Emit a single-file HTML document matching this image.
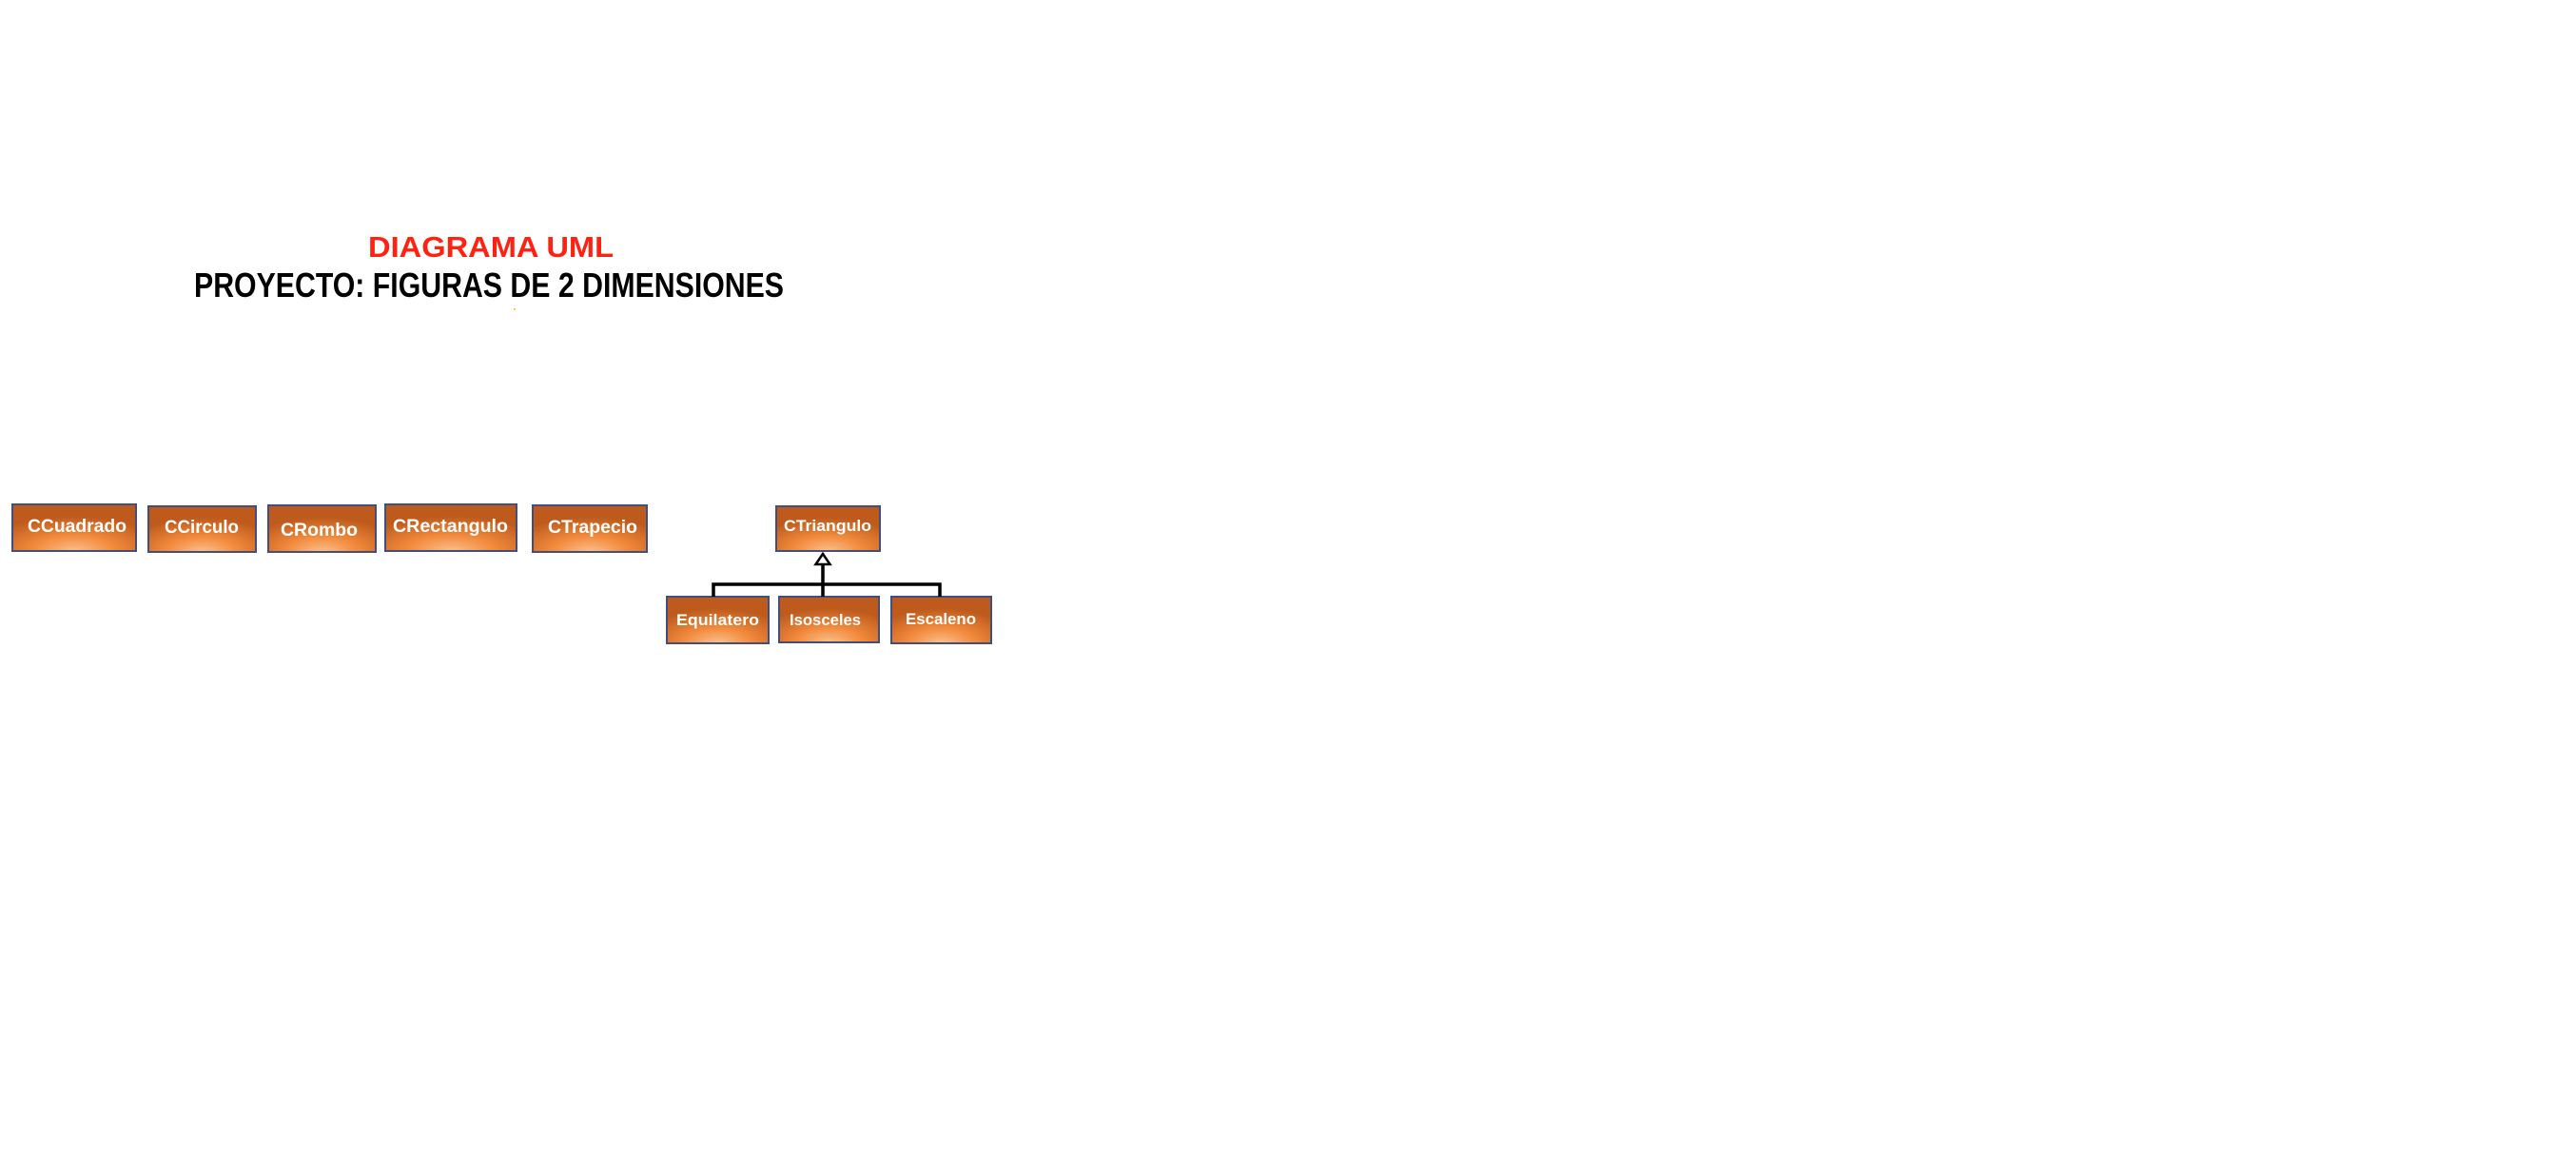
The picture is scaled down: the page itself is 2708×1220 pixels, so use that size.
<!DOCTYPE html>
<html><head><meta charset="utf-8"><style>html,body{margin:0;padding:0;background:#fff;width:2708px;height:1220px;overflow:hidden}</style></head>
<body>
<svg width="2708" height="1220" xmlns="http://www.w3.org/2000/svg" style="display:block">
<defs>
<radialGradient id="g" cx="0.5" cy="1" r="0.75" fx="0.5" fy="1">
<stop offset="0" stop-color="#fbbf8c"/>
<stop offset="0.45" stop-color="#f28a3c"/>
<stop offset="1" stop-color="#bd5a1c"/>
</radialGradient>
</defs>
<g font-family="Liberation Sans, sans-serif" font-weight="bold">
<text x="387" y="270" font-size="31" fill="#ff2212" textLength="258" lengthAdjust="spacingAndGlyphs">DIAGRAMA UML</text>
<text x="204" y="312" font-size="36" fill="#000" textLength="620" lengthAdjust="spacingAndGlyphs">PROYECTO: FIGURAS DE 2 DIMENSIONES</text>
<circle cx="541" cy="325" r="1" fill="#f0c000"/>
<g stroke="#3f4f7f" stroke-width="2" fill="url(#g)">
<rect x="13" y="530" width="130" height="49"/>
<rect x="156" y="532" width="113" height="48"/>
<rect x="282" y="531" width="113" height="49"/>
<rect x="405" y="530" width="138" height="49"/>
<rect x="560" y="531" width="120" height="49"/>
<rect x="816" y="532" width="109" height="47"/>
<rect x="701" y="627" width="107" height="49"/>
<rect x="819" y="627" width="105" height="48"/>
<rect x="937" y="627" width="105" height="49"/>
</g>
<g fill="#fff" font-size="19">
<text x="29" y="559" textLength="104" lengthAdjust="spacingAndGlyphs">CCuadrado</text>
<text x="173" y="560" textLength="78" lengthAdjust="spacingAndGlyphs">CCirculo</text>
<text x="295" y="563" textLength="81" lengthAdjust="spacingAndGlyphs">CRombo</text>
<text x="413" y="559" textLength="121" lengthAdjust="spacingAndGlyphs">CRectangulo</text>
<text x="576" y="560" textLength="94" lengthAdjust="spacingAndGlyphs">CTrapecio</text>
</g>
<g fill="#fff" font-size="17">
<text x="824" y="558" textLength="92" lengthAdjust="spacingAndGlyphs">CTriangulo</text>
<text x="711" y="657" textLength="87" lengthAdjust="spacingAndGlyphs">Equilatero</text>
<text x="830" y="657" textLength="75" lengthAdjust="spacingAndGlyphs">Isosceles</text>
<text x="952" y="656" textLength="74" lengthAdjust="spacingAndGlyphs">Escaleno</text>
</g>
</g>
<g stroke="#000" stroke-width="3.5" fill="none">
<line x1="865" y1="593" x2="865" y2="627"/>
<polyline points="750,627 750,614 988,614 988,627"/>
</g>
<polygon points="865,582 857.5,593 872.5,593" fill="#fff" stroke="#000" stroke-width="2.5"/>
</svg>
</body></html>
